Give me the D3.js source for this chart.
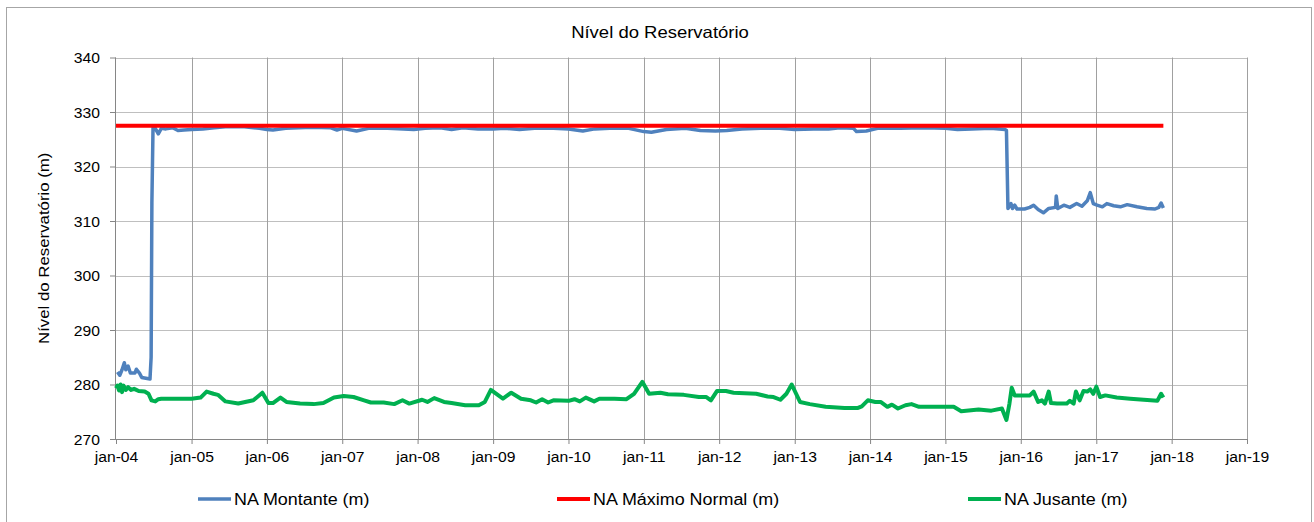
<!DOCTYPE html>
<meta charset="utf-8">
<style>
body { margin: 0; background: #fff; font-family: "Liberation Sans", Arial, sans-serif; }
.axis text { font-family: "Liberation Sans", Arial, sans-serif; font-size: 14px; fill: #000; }
.axis path, .axis line { stroke: #868686; }
</style>
<body>
<script src="https://cdn.jsdelivr.net/npm/d3@7"></script>
<script>

// data (decimal years)
var montanteYears = [2004.02, 2004.05, 2004.08, 2004.11, 2004.13, 2004.16, 2004.19, 2004.25, 2004.27, 2004.31,
  2004.34, 2004.45, 2004.465, 2004.475, 2004.49, 2004.52, 2004.56, 2004.60, 2004.66, 2004.75, 2004.82, 2004.90,
  2005.00, 2005.15, 2005.30, 2005.45, 2005.70, 2005.90, 2006.00, 2006.08, 2006.25, 2006.60, 2006.85, 2006.93,
  2007.00, 2007.19, 2007.35, 2007.60, 2007.95, 2008.10, 2008.30, 2008.45, 2008.60, 2008.80, 2009.00, 2009.15,
  2009.35, 2009.55, 2009.80, 2010.00, 2010.19, 2010.35, 2010.55, 2010.80, 2011.00, 2011.10, 2011.30, 2011.55,
  2011.75, 2011.95, 2012.10, 2012.30, 2012.55, 2012.80, 2013.00, 2013.25, 2013.45, 2013.60, 2013.78, 2013.82,
  2013.95, 2014.10, 2014.40, 2014.70, 2015.00, 2015.16, 2015.35, 2015.60, 2015.79, 2015.81, 2015.83, 2015.87,
  2015.89, 2015.92, 2015.95, 2016.05, 2016.12, 2016.17, 2016.23, 2016.30, 2016.37, 2016.46, 2016.47, 2016.49,
  2016.57, 2016.65, 2016.74, 2016.81, 2016.88, 2016.92, 2016.96, 2017.01, 2017.08, 2017.14, 2017.23, 2017.32,
  2017.41, 2017.54, 2017.67, 2017.78, 2017.83, 2017.86, 2017.89];
var montanteValues = [282.3, 281.7, 282.7, 284.0, 282.7, 283.4, 282.1, 282.1, 282.8, 282.1,
  281.3, 281.0, 285.0, 313.3, 327.1, 327.0, 326.0, 327.0, 326.9, 327.1, 326.6, 326.7,
  326.8, 326.9, 327.1, 327.3, 327.3, 327.0, 326.8, 326.7, 327.0, 327.2, 327.1, 326.7,
  327.0, 326.5, 327.0, 327.0, 326.8, 327.0, 327.1, 326.8, 327.1, 326.9, 326.9, 327.0,
  326.8, 327.0, 327.0, 326.9, 326.5, 326.9, 327.0, 327.0, 326.4, 326.3, 326.8, 327.0,
  326.6, 326.5, 326.6, 326.9, 327.0, 327.0, 326.8, 326.9, 326.9, 327.1, 327.0, 326.4,
  326.5, 327.0, 327.0, 327.1, 327.0, 326.8, 326.9, 327.0, 326.8, 326.6, 312.3, 313.2,
  312.3, 312.9, 312.2, 312.2, 312.5, 312.9, 312.1, 311.5, 312.3, 312.5, 314.6, 312.3,
  312.9, 312.5, 313.2, 312.7, 313.7, 315.2, 313.2, 312.9, 312.6, 313.2, 312.8, 312.6,
  313.0, 312.6, 312.3, 312.2, 312.5, 313.3, 312.4];

var maximoYears = [2004.0, 2017.89];
var maximoValues = [327.5, 327.5];

var jusanteYears = [2004.00, 2004.02, 2004.04, 2004.06, 2004.08, 2004.10, 2004.13, 2004.16, 2004.20, 2004.24,
  2004.30, 2004.38, 2004.43, 2004.47, 2004.52, 2004.56, 2004.60, 2005.00, 2005.12, 2005.20, 2005.29, 2005.35,
  2005.45, 2005.62, 2005.82, 2005.94, 2006.02, 2006.08, 2006.18, 2006.26, 2006.44, 2006.62, 2006.75, 2006.89,
  2007.02, 2007.15, 2007.29, 2007.38, 2007.55, 2007.69, 2007.80, 2007.89, 2008.06, 2008.13, 2008.22, 2008.35,
  2008.45, 2008.63, 2008.81, 2008.89, 2008.97, 2009.13, 2009.24, 2009.37, 2009.50, 2009.57, 2009.65, 2009.73,
  2009.80, 2010.00, 2010.08, 2010.15, 2010.23, 2010.34, 2010.41, 2010.61, 2010.77, 2010.87, 2010.98, 2011.07,
  2011.22, 2011.32, 2011.53, 2011.73, 2011.83, 2011.89, 2011.97, 2012.09, 2012.19, 2012.49, 2012.64, 2012.72,
  2012.81, 2012.89, 2012.96, 2013.07, 2013.20, 2013.41, 2013.66, 2013.84, 2013.89, 2013.97, 2014.07, 2014.14,
  2014.23, 2014.29, 2014.37, 2014.47, 2014.55, 2014.65, 2015.11, 2015.21, 2015.44, 2015.61, 2015.75, 2015.81,
  2015.85, 2015.88, 2015.92, 2016.12, 2016.17, 2016.23, 2016.28, 2016.32, 2016.37, 2016.40, 2016.48, 2016.61,
  2016.65, 2016.70, 2016.73, 2016.78, 2016.83, 2016.88, 2016.92, 2016.96, 2017.00, 2017.05, 2017.12, 2017.27,
  2017.45, 2017.63, 2017.81, 2017.86, 2017.89];
var jusanteValues = [279.3, 279.8, 278.9, 280.0, 278.6, 279.8, 279.0, 279.5, 279.0, 279.2,
  278.8, 278.7, 278.3, 277.1, 276.9, 277.3, 277.4, 277.4, 277.6, 278.7, 278.3, 278.1,
  276.9, 276.5, 277.1, 278.5, 276.6, 276.6, 277.6, 276.8, 276.5, 276.4, 276.6, 277.6,
  277.9, 277.7, 277.1, 276.7, 276.7, 276.4, 277.1, 276.5, 277.2, 276.8, 277.5, 276.8,
  276.6, 276.2, 276.2, 276.8, 279.0, 277.4, 278.5, 277.4, 277.1, 276.7, 277.3, 276.7,
  277.1, 277.0, 277.3, 276.9, 277.6, 276.9, 277.4, 277.4, 277.3, 278.3, 280.5, 278.3,
  278.5, 278.2, 278.1, 277.7, 277.7, 277.1, 278.8, 278.8, 278.5, 278.3, 277.8, 277.7,
  277.2, 278.3, 280.0, 276.8, 276.4, 275.9, 275.7, 275.7, 276.0, 277.1, 276.8, 276.8,
  275.9, 276.3, 275.6, 276.2, 276.4, 275.9, 275.9, 275.1, 275.4, 275.2, 275.6, 273.5,
  276.5, 279.4, 278.0, 278.0, 278.7, 276.8, 277.1, 276.5, 278.7, 276.6, 276.5, 276.5,
  277.0, 276.5, 278.7, 277.1, 278.8, 278.7, 279.1, 278.3, 279.6, 277.7, 278.0, 277.6,
  277.4, 277.2, 277.0, 278.3, 277.6];

var yTicks = [270, 280, 290, 300, 310, 320, 330, 340];
var seriesNames = ["NA Montante (m)", "NA Máximo Normal (m)", "NA Jusante (m)"];
var seriesColors = ["#4f81bd", "#ff0000", "#00b050"];

// excel stretched the text a little wider than the font
var K = 1.12;
function stretch(sel) {
  sel.each(function() {
    var w = this.getComputedTextLength();
    d3.select(this).attr("textLength", w * K).attr("lengthAdjust", "spacingAndGlyphs");
  });
}

function toDate(v) {
  var yr = Math.floor(v + 1e-9);
  var a = new Date(yr, 0, 1), b = new Date(yr + 1, 0, 1);
  return new Date(+a + (v - yr) * (b - a));
}
function pairs(xs, vs) { return xs.map(function(d, i) { return {date: toDate(d), value: vs[i]}; }); }

var W = 1314, H = 522;
var pLeft = 116, pRight = 1247, pTop = 57.5, pBottom = 439;

var svg = d3.select("body").append("svg").attr("width", W).attr("height", H);

svg.append("rect")
    .attr("x", 6.5).attr("y", 7.5).attr("width", 1305).attr("height", 530)
    .attr("fill", "#fff").attr("stroke", "#a6a6a6");

var x = d3.scaleTime()
    .domain([new Date(2004, 0, 1), new Date(2019, 0, 1)])
    .range([pLeft, pRight]);
var y = d3.scaleLinear().domain([270, 340]).range([pBottom, pTop]);
var xTicks = d3.timeYear.range(new Date(2004, 0, 1), new Date(2019, 0, 2));

// gridlines
svg.append("g").selectAll("line").data(yTicks.slice(1)).enter().append("line")
    .attr("x1", pLeft).attr("x2", pRight)
    .attr("y1", function(d) { return Math.round(y(d)) + 0.5; })
    .attr("y2", function(d) { return Math.round(y(d)) + 0.5; })
    .attr("stroke", "#bfbfbf");
svg.append("g").selectAll("line").data(xTicks.slice(1)).enter().append("line")
    .attr("x1", function(d) { return Math.round(x(d)) + 0.5; })
    .attr("x2", function(d) { return Math.round(x(d)) + 0.5; })
    .attr("y1", pTop).attr("y2", pBottom)
    .attr("stroke", "#a0a0a0");

// axes
var gx = svg.append("g").attr("class", "axis")
    .attr("transform", "translate(0," + pBottom + ")")
    .call(d3.axisBottom(x).tickValues(xTicks).tickSize(5).tickPadding(8)
      .tickFormat(function(d) { return "jan-" + d3.timeFormat("%y")(d); }));
gx.select(".domain").attr("d", "M" + pLeft + ",0.5H" + pRight);
stretch(gx.selectAll("text"));

var gy = svg.append("g").attr("class", "axis")
    .attr("transform", "translate(" + pLeft + ",0)")
    .call(d3.axisLeft(y).tickValues(yTicks).tickSize(6).tickPadding(10));
gy.select(".domain").attr("d", "M-0.5," + pTop + "V" + pBottom);
gy.selectAll("text").attr("dy", "0.36em");
stretch(gy.selectAll("text"));

// lines
var line = d3.line()
    .x(function(d) { return x(d.date); })
    .y(function(d) { return y(d.value); });

var series = [
  {data: pairs(montanteYears, montanteValues), w: 3.5},
  {data: pairs(maximoYears, maximoValues), w: 4},
  {data: pairs(jusanteYears, jusanteValues), w: 4}
];
series.forEach(function(s, i) {
  svg.append("path")
      .datum(s.data)
      .attr("d", line)
      .attr("fill", "none")
      .attr("stroke", seriesColors[i])
      .attr("stroke-width", s.w)
      .attr("stroke-linejoin", "round");
});

// title and axis label
svg.append("text")
    .attr("x", 660).attr("y", 38)
    .attr("text-anchor", "middle")
    .style("font-size", "16.5px")
    .text("Nível do Reservatório")
    .call(stretch);

svg.append("text")
    .attr("transform", "translate(49," + ((pTop + pBottom) / 2) + ") rotate(-90)")
    .attr("text-anchor", "middle")
    .style("font-size", "15px")
    .text("Nível do Reservatório (m)")
    .call(stretch);

// legend
var legendX = [198, 557, 968];
var legend = svg.append("g").selectAll("g").data(seriesNames).enter().append("g")
    .attr("transform", function(d, i) { return "translate(" + legendX[i] + ",499)"; });
legend.append("line")
    .attr("x1", 0).attr("x2", 33)
    .attr("stroke", function(d, i) { return seriesColors[i]; })
    .attr("stroke-width", function(d, i) { return series[i].w; });
legend.append("text")
    .attr("x", 36).attr("y", 6)
    .style("font-size", "16px")
    .text(function(d) { return d; })
    .call(stretch);

</script>
</body>
